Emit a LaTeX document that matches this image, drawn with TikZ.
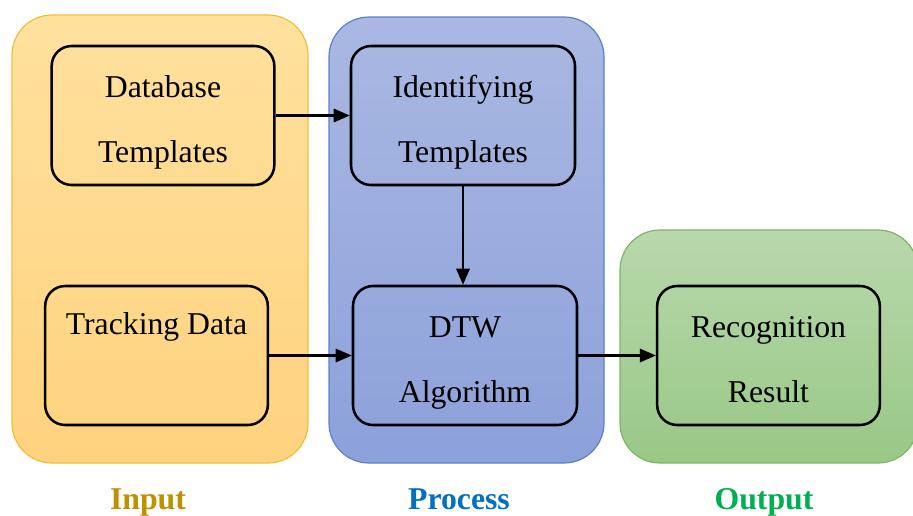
\documentclass[tikz,border=0pt]{standalone}
\usepackage{fontspec}
\setmainfont{Liberation Serif}
\usetikzlibrary{arrows.meta}
\definecolor{orTop}{HTML}{FFE19E}
\definecolor{orBot}{HTML}{FFD27E}
\definecolor{orLine}{HTML}{F2BE36}
\definecolor{blTop}{HTML}{AAB8E2}
\definecolor{blBot}{HTML}{8CA1DA}
\definecolor{blLine}{HTML}{5B80CC}
\definecolor{grTop}{HTML}{B9D8AC}
\definecolor{grBot}{HTML}{98C886}
\definecolor{grLine}{HTML}{82B366}
\definecolor{inCol}{HTML}{BF9000}
\definecolor{prCol}{HTML}{0070C0}
\definecolor{ouCol}{HTML}{00B050}
\begin{document}
\begin{tikzpicture}[x=0.75pt,y=-0.75pt,
  box/.style={draw=black, line width=1.9pt, rounded corners=15pt,
    minimum width=167pt, minimum height=104.25pt, inner sep=0pt,
    align=center, font=\fontsize{23.8}{48.75}\selectfont,
    text height=74.75pt, text depth=5pt},
  onebox/.style={box, text height=20pt, text depth=52.25pt},
  panel/.style={line width=0.9pt, rounded corners=30pt},
  conn/.style={line width=1.6pt, -{Triangle[length=12pt,width=10pt]}},
  tag/.style={font=\fontsize{23.8}{28}\selectfont\bfseries, anchor=base}]
\useasboundingbox (0,0) rectangle (913,515);
\begin{scope}
\clip (0,0) rectangle (913,515);
\shade[panel, top color=orTop, bottom color=orBot, draw=orLine] (12,15) rectangle (308,463);
\shade[panel, top color=blTop, bottom color=blBot, draw=blLine] (329,17) rectangle (604,463);
\shade[panel, top color=grTop, bottom color=grBot, draw=grLine] (620,230) rectangle (918,463);
\end{scope}
\node[box] (db) at (163,115.5) {Database\\Templates};
\node[onebox] (tr) at (156.5,355.5) {Tracking Data};
\node[box, minimum width=168pt] (idt) at (463,115.5) {Identifying\\Templates};
\node[box, minimum width=168pt] (dtw) at (465,355.5) {DTW\\Algorithm};
\node[box] (rec) at (768.5,355.5) {Recognition\\Result};
\draw[conn] (db) -- (idt);
\draw[conn] (tr.east) -- (dtw.west);
\draw[conn] (idt.south) -- (idt.south |- dtw.north);
\draw[conn] (dtw) -- (rec);
\node[tag, text=inCol] (lin) at (148,509) {Input};
\node[tag, text=prCol] (lpr) at (459,509) {Process};
\node[tag, text=ouCol] (lou) at (764,509) {Output};
\end{tikzpicture}
\end{document}
